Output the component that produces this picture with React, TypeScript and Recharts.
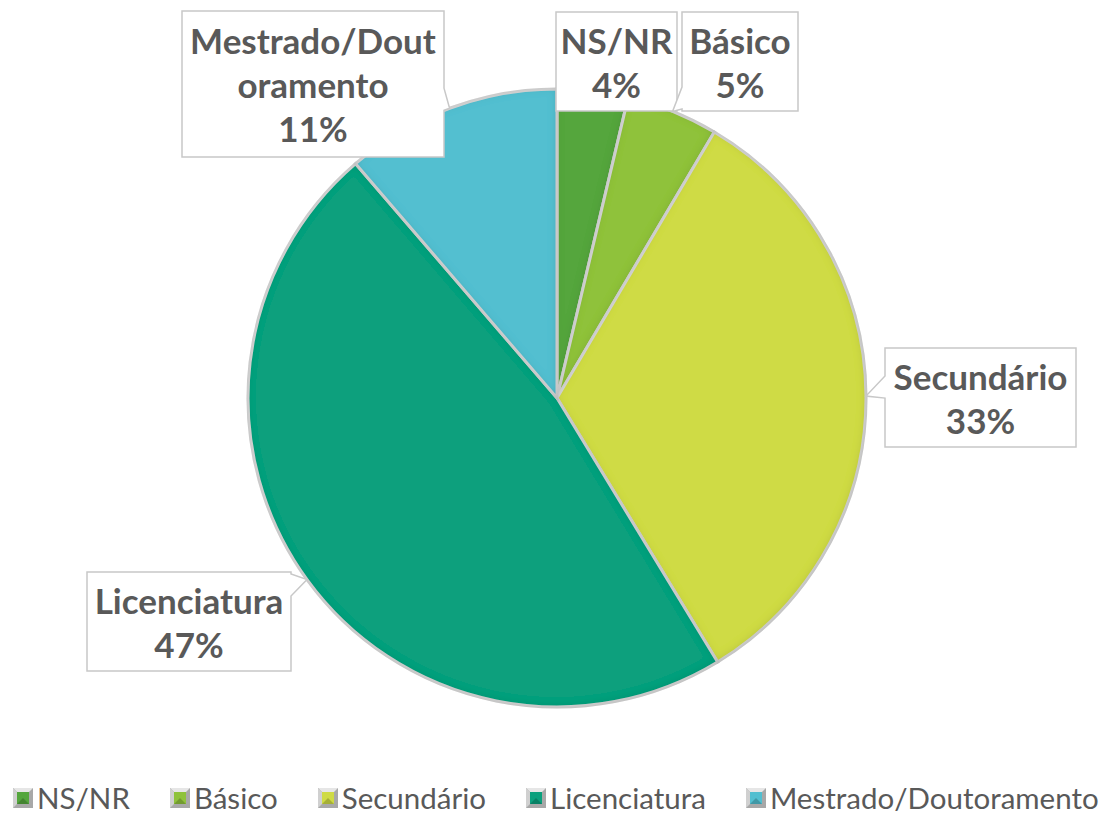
import { PieChart, Pie, Cell, Legend } from "recharts";

const categories = ["NS/NR", "Básico", "Secundário", "Licenciatura", "Mestrado/Doutoramento"];
const shares = [3.7, 4.8, 32.8, 47.4, 11.3];
const colors = ["#54a63d", "#8fc23b", "#cfdb44", "#0aa07d", "#52bfd0"];

const data = categories.map((name, i) => ({ name, value: shares[i] }));

// callout boxes (chart coordinates) and word-wrap width per label
const LABEL_BOXES = [
  { x: 548, y: 4, w: 121, h: 99, wrap: 20 },
  { x: 674, y: 4, w: 116, h: 99, wrap: 20 },
  { x: 877, y: 340, w: 191, h: 99, wrap: 20 },
  { x: 79, y: 564, w: 204, h: 99, wrap: 20 },
  { x: 174, y: 3, w: 262, h: 146, wrap: 13 },
];

const RAD = Math.PI / 180;
const TEXT = "#595959";
const FONT = "Lato, 'Open Sans', sans-serif";

function calloutPath(b: { x: number; y: number; w: number; h: number }, ax: number, ay: number) {
  const { x, y, w, h } = b;
  const r = x + w;
  const btm = y + h;
  const clamp = (v: number, lo: number, hi: number) => Math.max(lo, Math.min(hi, v));
  if (ax < x - 4) {
    const b1 = clamp(ay - 20, y + 2, btm - 24);
    const b2 = b1 + 22;
    return `M${x},${y} L${r},${y} L${r},${btm} L${x},${btm} L${x},${b2} L${ax},${ay} L${x},${b1} Z`;
  }
  if (ax > r + 4) {
    const b1 = clamp(ay - 20, y + 2, btm - 24);
    const b2 = b1 + 22;
    return `M${x},${y} L${r},${y} L${r},${b1} L${ax},${ay} L${r},${b2} L${r},${btm} L${x},${btm} Z`;
  }
  if (ay > btm + 4) {
    const b1 = clamp(ax - 10, x + 2, r - 22);
    const b2 = b1 + 20;
    return `M${x},${y} L${r},${y} L${r},${btm} L${b2},${btm} L${ax},${ay} L${b1},${btm} L${x},${btm} Z`;
  }
  return `M${x},${y} L${r},${y} L${r},${btm} L${x},${btm} Z`;
}

function wrapText(s: string, n: number) {
  const out: string[] = [];
  for (let i = 0; i < s.length; i += n) out.push(s.slice(i, i + n));
  return out;
}

const renderLabel = (props: any) => {
  const { cx, cy, midAngle, outerRadius, percent, name, index } = props;
  const box = LABEL_BOXES[index];
  const ax = cx + outerRadius * Math.cos(-midAngle * RAD);
  const ay = cy + outerRadius * Math.sin(-midAngle * RAD);
  const lines = [...wrapText(name, box.wrap), `${Math.round(percent * 100)}%`];
  const lh = 44;
  const top = box.y + box.h / 2 - ((lines.length - 1) * lh) / 2;
  return (
    <g key={`lbl-${index}`}>
      <path d={calloutPath(box, ax, ay)} fill="#ffffff" stroke="#c8c8c8" strokeWidth={1.5} />
      <text
        x={box.x + box.w / 2}
        textAnchor="middle"
        fill={TEXT}
        fontFamily={FONT}
        fontWeight={700}
        fontSize={35}
      >
        {lines.map((l, i) => (
          <tspan key={i} x={box.x + box.w / 2} y={top + i * lh} dominantBaseline="central">
            {l}
          </tspan>
        ))}
      </text>
    </g>
  );
};

const renderLegend = () => (
  <div
    style={{
      display: "flex",
      gap: 40,
      alignItems: "center",
      whiteSpace: "nowrap",
      fontFamily: FONT,
      fontSize: 29.5,
      color: TEXT,
    }}
  >
    {categories.map((c, i) => (
      <div key={c} style={{ display: "flex", alignItems: "center", flexShrink: 0 }}>
        <svg width={20} height={20} style={{ marginRight: 4 }}>
          <rect x={0} y={0} width={20} height={20} fill="#a8a8a8" />
          <polygon points="0,0 20,0 16,4 4,4" fill="#e6e6e6" />
          <polygon points="0,0 4,4 4,16 0,20" fill="#d0d0d0" />
          <rect x={4} y={4} width={12} height={12} fill={colors[i]} />
          <polygon points="4,16 10,10 16,16" fill="#000" fillOpacity={0.2} />
        </svg>
        <span>{c}</span>
      </div>
    ))}
  </div>
);

export default function App() {
  return (
    <PieChart width={1100} height={812} margin={{ top: 0, right: 0, bottom: 0, left: 0 }}>
      <defs>
        <filter id="inset" x="-5%" y="-5%" width="110%" height="110%">
          <feComponentTransfer in="SourceAlpha" result="inv">
            <feFuncA type="table" tableValues="1 0" />
          </feComponentTransfer>
          <feGaussianBlur in="inv" stdDeviation={5} />
          <feOffset dx={-1} dy={-1} result="blurred" />
          <feFlood floodColor="#000" floodOpacity={0.3} />
          <feComposite in2="blurred" operator="in" />
          <feComposite in2="SourceAlpha" operator="in" result="shadow" />
          <feMerge>
            <feMergeNode in="SourceGraphic" />
            <feMergeNode in="shadow" />
          </feMerge>
        </filter>
      </defs>
      <Pie
        data={data}
        dataKey="value"
        nameKey="name"
        cx={549}
        cy={390}
        outerRadius={309}
        startAngle={90}
        endAngle={-270}
        stroke="#d6d6d6"
        strokeWidth={3}
        labelLine={false}
        label={renderLabel}
        isAnimationActive={false}
      >
        {data.map((d, i) => (
          <Cell key={d.name} fill={colors[i]} filter="url(#inset)" />
        ))}
      </Pie>
      <Legend content={renderLegend} wrapperStyle={{ left: 5, top: 772, width: 1100 }} />
    </PieChart>
  );
}
